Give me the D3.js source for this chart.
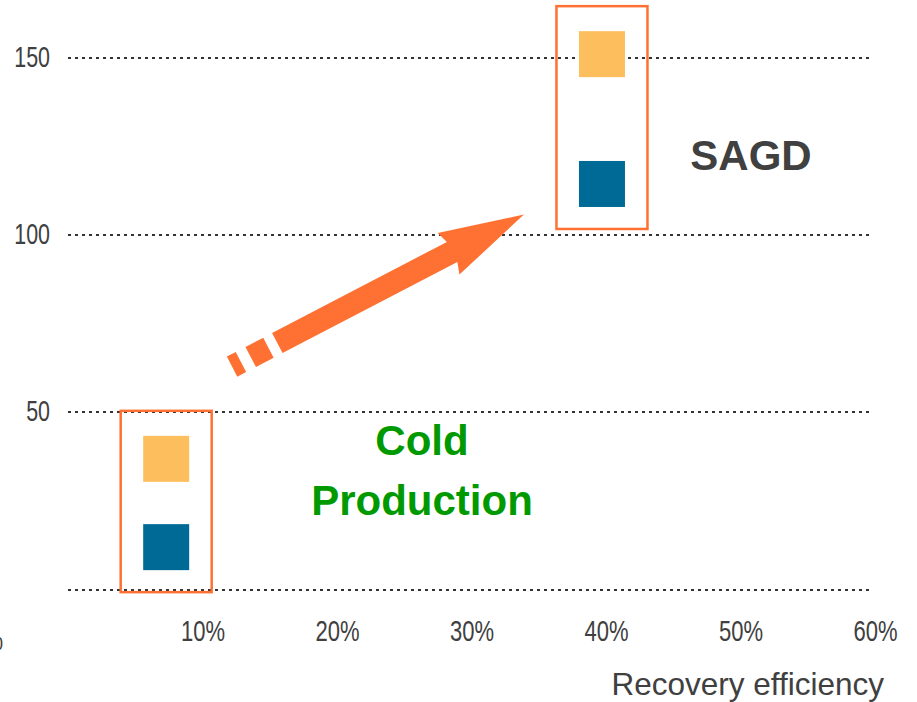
<!DOCTYPE html>
<html>
<head>
<meta charset="utf-8">
<script src="https://cdn.jsdelivr.net/npm/d3@7"></script>
<style>
  body { margin: 0; background: #fff; }
  svg { display: block; font-family: "Liberation Sans", Arial, sans-serif; overflow: hidden; }
</style>
</head>
<body>
<div id="chart"></div>
<script>
// recovery method groups
const groups = ["Cold Production", "SAGD"]
const groupRecovery = [0.073, 0.397]
// two cost series per group (yellow on top, blue below)
const seriesNames = ["high", "low"]
const highValues = [36.7, 150.8]
const lowValues = [11.8, 114.2]

const yTicks = [0, 50, 100, 150]
const xTicks = [0.1, 0.2, 0.3, 0.4, 0.5, 0.6]

// arrow annotation, in data units: [recovery, value]
const arrowFrom = [0.122, 62.7]
const arrowTo = [0.339, 105.6]

const width = 917, height = 702
const orange = "#ff7133", yellow = "#fdbf5e", blue = "#006a96", ink = "#404040"

const svg = d3.select("#chart").append("svg")
    .attr("width", width)
    .attr("height", height)

const x = d3.scaleLinear().domain([0, 0.6]).range([68, 875])
const y = d3.scaleLinear().domain([0, 150]).range([589, 57])

// horizontal dotted gridlines + y labels
const yAxis = svg.append("g")
    .attr("transform", `translate(${x(0)},0)`)
    .call(d3.axisLeft(y)
        .tickValues(yTicks)
        .tickSize(-(x(0.6) - x(0) - 3))
        .tickPadding(18)
        .tickFormat(d => d === 0 ? "" : d))
yAxis.select(".domain").remove()
yAxis.selectAll(".tick line")
    .attr("stroke", "#333")
    .attr("stroke-width", 2)
    .attr("stroke-dasharray", "3,4")
    .attr("shape-rendering", "crispEdges")
yAxis.selectAll(".tick text")
    .attr("fill", ink)
    .style("font-size", "29px")
    .style("transform-box", "fill-box")
    .style("transform-origin", "right center")
    .style("transform", "scaleX(0.74)")

// x labels
const xAxis = svg.append("g")
    .attr("transform", `translate(0,${y(0)})`)
    .call(d3.axisBottom(x)
        .tickValues(xTicks)
        .tickSize(0)
        .tickPadding(31)
        .tickFormat(d3.format(".0%")))
xAxis.select(".domain").remove()
xAxis.selectAll(".tick text")
    .attr("fill", ink)
    .style("font-size", "29px")
    .style("transform-box", "fill-box")
    .style("transform-origin", "center")
    .style("transform", "scaleX(0.76)")

// clipped leftover of a 0% label at the left edge
svg.append("text")
    .attr("x", 3)
    .attr("y", 650)
    .attr("text-anchor", "end")
    .attr("fill", ink)
    .style("font-size", "29px")
    .style("transform-box", "fill-box")
    .style("transform-origin", "right center")
    .style("transform", "scaleX(0.75)")
    .text("0%")

svg.append("text")
    .attr("x", 884)
    .attr("y", 695)
    .attr("text-anchor", "end")
    .attr("fill", ink)
    .style("font-size", "31.5px")
    .text("Recovery efficiency")

// group boxes and squares
const sq = 46
const data = groups.map((g, i) => ({
    name: g,
    rec: groupRecovery[i],
    high: highValues[i],
    low: lowValues[i]
}))

const grp = svg.selectAll("g.group")
    .data(data)
    .join("g")
    .attr("class", "group")

grp.append("rect")
    .attr("x", d => x(d.rec) - 45.5)
    .attr("width", 91)
    .attr("y", d => y(d.high) - 48)
    .attr("height", d => y(d.low) - y(d.high) + 48 + 45)
    .attr("fill", "none")
    .attr("stroke", orange)
    .attr("stroke-width", 2.5)

grp.append("rect")
    .attr("x", d => x(d.rec) - sq / 2)
    .attr("y", d => y(d.high) - sq / 2)
    .attr("width", sq)
    .attr("height", sq)
    .attr("fill", yellow)

grp.append("rect")
    .attr("x", d => x(d.rec) - sq / 2)
    .attr("y", d => y(d.low) - sq / 2)
    .attr("width", sq)
    .attr("height", sq)
    .attr("fill", blue)

// labels
svg.append("text")
    .attr("x", 751)
    .attr("y", 170)
    .attr("text-anchor", "middle")
    .attr("fill", ink)
    .style("font-size", "42px")
    .style("font-weight", "bold")
    .text("SAGD")

const cold = svg.append("text")
    .attr("text-anchor", "middle")
    .attr("fill", "#009a00")
    .style("font-size", "42px")
    .style("font-weight", "bold")
cold.append("tspan").attr("x", 422).attr("y", 455).text("Cold")
cold.append("tspan").attr("x", 422).attr("y", 515).text("Production")

// dashed-tail arrow
const ax0 = x(arrowFrom[0]), ay0 = y(arrowFrom[1])
const ax1 = x(arrowTo[0]), ay1 = y(arrowTo[1])
const len = Math.hypot(ax1 - ax0, ay1 - ay0)
const ang = Math.atan2(ay1 - ay0, ax1 - ax0) * 180 / Math.PI
const hw = 11.3, headW = 23.5, headL = 81

const arrow = svg.append("g")
    .attr("transform", `translate(${ax0},${ay0}) rotate(${ang})`)
    .attr("fill", orange)

const pieces = [[0, 10], [21, 41]]
arrow.selectAll("rect")
    .data(pieces)
    .join("rect")
    .attr("x", d => d[0])
    .attr("width", d => d[1] - d[0])
    .attr("y", -hw)
    .attr("height", hw * 2)

const p = d3.path()
p.moveTo(51, -hw)
p.lineTo(len - headL, -hw)
p.lineTo(len - headL - 4, -headW)
p.lineTo(len, 0)
p.lineTo(len - headL - 4, headW)
p.lineTo(len - headL, hw)
p.lineTo(51, hw)
p.closePath()
arrow.append("path").attr("d", p.toString())
</script>
</body>
</html>
